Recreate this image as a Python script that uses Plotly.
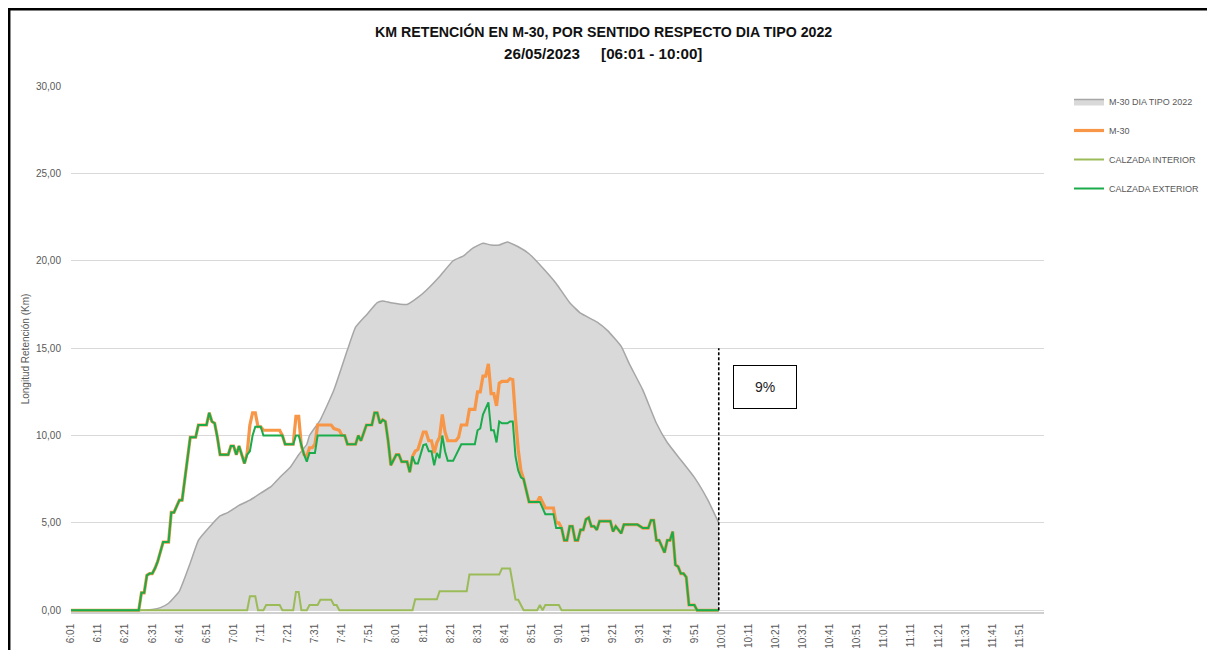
import plotly.graph_objects as go

# ---------------- data ----------------
TICK_LABELS = ["6:01", "6:11", "6:21", "6:31", "6:41", "6:51", "7:01", "7:11", "7:21", "7:31",
               "7:41", "7:51", "8:01", "8:11", "8:21", "8:31", "8:41", "8:51", "9:01", "9:11",
               "9:21", "9:31", "9:41", "9:51", "10:01", "10:11", "10:21", "10:31", "10:41", "10:51",
               "11:01", "11:11", "11:21", "11:31", "11:41", "11:51"]
Y_TICKS = [0, 5, 10, 15, 20, 25, 30]

tipo_t = ["6:01", "6:26", "6:31", "6:34", "6:37", "6:41", "6:45", "6:48", "6:52", "6:56", "6:59",
          "7:03", "7:07", "7:11", "7:15", "7:18", "7:22", "7:25", "7:28", "7:29", "7:33", "7:38",
          "7:43", "7:46", "7:50", "7:54", "7:56", "7:59", "8:05", "8:09", "8:12", "8:17", "8:22",
          "8:26", "8:29", "8:33", "8:36", "8:39", "8:42", "8:46", "8:50", "8:55", "9:00", "9:05",
          "9:09", "9:15", "9:19", "9:24", "9:27", "9:32", "9:37", "9:41", "9:46", "9:51", "9:56",
          "10:00"]
tipo_v = [0, 0, 0.05, 0.15, 0.4, 1.1, 2.7, 4.0, 4.75, 5.4, 5.6,
          6.0, 6.3, 6.7, 7.1, 7.6, 8.2, 8.9, 9.5, 10.0, 10.9, 12.6,
          14.9, 16.2, 16.9, 17.6, 17.7, 17.6, 17.5, 17.9, 18.3, 19.1, 20.0,
          20.3, 20.7, 21.0, 20.9, 20.9, 21.07, 20.8, 20.4, 19.6, 18.7, 17.6,
          17.0, 16.5, 16.0, 15.1, 14.1, 12.6, 10.7, 9.6, 8.6, 7.6, 6.3,
          5.0]

ext_t = ["6:01", "6:26", "6:27", "6:28", "6:29", "6:30", "6:31", "6:32", "6:33", "6:34", "6:35",
         "6:37", "6:38", "6:39", "6:41", "6:42", "6:43", "6:44", "6:45", "6:47", "6:48", "6:51",
         "6:52", "6:53", "6:54", "6:55", "6:56", "6:59", "7:00", "7:01", "7:02", "7:03", "7:04",
         "7:05", "7:06", "7:07", "7:08", "7:09", "7:11", "7:12", "7:19", "7:20", "7:23", "7:24",
         "7:25", "7:26", "7:27", "7:28", "7:29", "7:31", "7:32", "7:42", "7:43", "7:46", "7:47",
         "7:48", "7:49", "7:50", "7:52", "7:53", "7:54", "7:55", "7:56", "7:57", "7:58", "7:59",
         "8:01", "8:02", "8:03", "8:05", "8:06", "8:07", "8:08", "8:09", "8:11", "8:12", "8:13",
         "8:14", "8:15", "8:16", "8:17", "8:18", "8:19", "8:20", "8:22", "8:23", "8:25", "8:30",
         "8:31", "8:32", "8:33", "8:35", "8:36", "8:37", "8:38", "8:39", "8:40", "8:42", "8:43",
         "8:44", "8:45", "8:46", "8:47", "8:48", "8:50", "8:54", "8:56", "8:59", "9:00", "9:02",
         "9:03", "9:04", "9:05", "9:06", "9:07", "9:08", "9:09", "9:10", "9:11", "9:12", "9:13",
         "9:14", "9:15", "9:16", "9:20", "9:21", "9:22", "9:24", "9:25", "9:30", "9:32", "9:34",
         "9:35", "9:36", "9:37", "9:38", "9:40", "9:41", "9:42", "9:43", "9:44", "9:45", "9:46",
         "9:47", "9:48", "9:49", "9:51", "9:52", "10:00"]
ext_v = [0, 0, 1.0, 1.0, 2.0, 2.1, 2.1, 2.4, 2.8, 3.3, 3.9,
         3.9, 5.6, 5.6, 6.3, 6.3, 7.5, 8.5, 9.9, 9.9, 10.6, 10.6,
         11.3, 10.8, 10.7, 9.9, 8.9, 8.9, 9.4, 9.4, 8.9, 9.4, 8.9,
         8.4, 8.9, 9.1, 10.0, 10.5, 10.5, 10.0, 10.0, 9.5, 9.5, 10.0,
         10.0, 9.4, 8.9, 8.5, 9.0, 9.0, 10.0, 10.0, 9.5, 9.5, 10.0,
         9.7, 10.2, 10.6, 10.6, 11.3, 11.3, 10.7, 10.9, 10.8, 9.7, 8.3,
         8.9, 8.9, 8.5, 8.5, 7.9, 8.8, 8.4, 8.4, 9.45, 9.5, 9.1,
         9.1, 8.3, 9.0, 8.7, 10.0, 9.1, 8.55, 8.55, 8.9, 9.5, 9.5,
         10.3, 10.4, 11.2, 11.9, 10.3, 10.3, 9.6, 10.8, 10.7, 10.7, 10.8,
         10.8, 8.8, 8.0, 7.6, 7.5, 6.2, 6.2, 5.5, 5.5, 4.7, 4.7,
         4.0, 4.0, 4.8, 4.8, 4.0, 4.0, 4.6, 4.6, 5.2, 5.3, 4.8,
         4.8, 4.6, 5.1, 5.1, 4.5, 4.8, 4.4, 4.9, 4.9, 4.7, 4.7,
         5.15, 5.15, 4.0, 4.0, 3.3, 4.0, 4.0, 4.5, 2.6, 2.5, 2.1,
         2.1, 1.9, 0.3, 0.3, 0, 0]

int_t = ["6:01", "7:06", "7:07", "7:09", "7:10", "7:12", "7:13", "7:18", "7:19", "7:23", "7:24",
         "7:25", "7:26", "7:28", "7:29", "7:32", "7:33", "7:37", "7:38", "7:39", "7:40", "8:07",
         "8:08", "8:16", "8:17", "8:27", "8:28", "8:39", "8:40", "8:43", "8:45", "8:46", "8:48",
         "8:53", "8:54", "8:55", "8:56", "9:01", "9:02", "10:00"]
int_v = [0, 0, 0.8, 0.8, 0, 0, 0.3, 0.3, 0, 0, 1.05,
         1.05, 0, 0, 0.3, 0.3, 0.6, 0.6, 0.3, 0.3, 0, 0,
         0.63, 0.63, 1.09, 1.09, 2.04, 2.04, 2.39, 2.39, 0.61, 0.6, 0,
         0, 0.3, 0, 0.3, 0.3, 0, 0]

m30_t = ["6:01", "6:26", "6:27", "6:28", "6:29", "6:30", "6:31", "6:32", "6:33", "6:34", "6:35",
         "6:37", "6:38", "6:39", "6:41", "6:42", "6:43", "6:44", "6:45", "6:47", "6:48", "6:51",
         "6:52", "6:53", "6:54", "6:55", "6:56", "6:59", "7:00", "7:01", "7:02", "7:03", "7:04",
         "7:05", "7:06", "7:07", "7:08", "7:09", "7:10", "7:11", "7:12", "7:18", "7:19", "7:20",
         "7:23", "7:24", "7:25", "7:26", "7:27", "7:28", "7:29", "7:30", "7:31", "7:32", "7:37",
         "7:38", "7:40", "7:41", "7:42", "7:43", "7:46", "7:47", "7:48", "7:49", "7:50", "7:52",
         "7:53", "7:54", "7:55", "7:56", "7:57", "7:58", "7:59", "8:01", "8:02", "8:03", "8:05",
         "8:06", "8:07", "8:08", "8:09", "8:10", "8:11", "8:12", "8:13", "8:14", "8:15", "8:16",
         "8:17", "8:18", "8:19", "8:20", "8:23", "8:24", "8:25", "8:27", "8:28", "8:30", "8:31",
         "8:32", "8:33", "8:34", "8:35", "8:36", "8:37", "8:38", "8:39", "8:40", "8:42", "8:43",
         "8:44", "8:45", "8:46", "8:47", "8:48", "8:50", "8:53", "8:54", "8:55", "8:56", "8:59",
         "9:00", "9:01", "9:02", "9:03", "9:04", "9:05", "9:06", "9:07", "9:08", "9:09", "9:10",
         "9:11", "9:12", "9:13", "9:14", "9:15", "9:16", "9:20", "9:21", "9:22", "9:24", "9:25",
         "9:30", "9:32", "9:34", "9:35", "9:36", "9:37", "9:38", "9:40", "9:41", "9:42", "9:43",
         "9:44", "9:45", "9:46", "9:47", "9:48", "9:49", "9:51", "9:52", "10:00"]
m30_v = [0, 0, 1.0, 1.0, 2.0, 2.1, 2.1, 2.4, 2.8, 3.3, 3.9,
         3.9, 5.6, 5.6, 6.3, 6.3, 7.5, 8.5, 9.9, 9.9, 10.6, 10.6,
         11.3, 10.8, 10.7, 9.9, 8.9, 8.9, 9.4, 9.4, 8.9, 9.4, 8.9,
         8.4, 9.0, 10.6, 11.3, 11.3, 10.5, 10.5, 10.3, 10.3, 10.0, 9.5,
         9.5, 11.1, 11.1, 9.4, 8.9, 8.8, 9.3, 9.3, 9.5, 10.6, 10.6,
         10.4, 10.3, 10.0, 10.0, 9.5, 9.5, 10.0, 9.7, 10.2, 10.6, 10.6,
         11.3, 11.3, 10.7, 10.9, 10.8, 9.7, 8.3, 8.9, 8.9, 8.5, 8.5,
         7.9, 8.8, 9.1, 9.2, 9.7, 10.2, 10.2, 9.7, 9.7, 9.0, 9.6,
         9.9, 11.2, 10.2, 9.7, 9.7, 9.9, 10.6, 10.6, 11.5, 11.5, 12.5,
         12.5, 13.4, 13.4, 14.1, 12.4, 12.4, 11.7, 13.0, 13.1, 13.1, 13.25,
         13.2, 11.0, 9.2, 8.0, 7.5, 6.2, 6.2, 6.5, 6.2, 5.85, 5.85,
         5.0, 5.0, 4.7, 4.0, 4.0, 4.8, 4.8, 4.0, 4.0, 4.6, 4.6,
         5.2, 5.3, 4.8, 4.8, 4.6, 5.1, 5.1, 4.5, 4.8, 4.4, 4.9,
         4.9, 4.7, 4.7, 5.15, 5.15, 4.0, 4.0, 3.3, 4.0, 4.0, 4.5,
         2.6, 2.5, 2.1, 2.1, 1.9, 0.3, 0.3, 0, 0]

CUTOFF_TIME = "10:00"
CUTOFF_LEVEL = 15.0
PCT_LABEL = "9%"
PCT_POS = ("10:17", 12.8)

TITLE_1 = "KM RETENCIÓN EN M-30, POR SENTIDO RESPECTO DIA TIPO 2022"
TITLE_2 = "26/05/2023\u00a0\u00a0\u00a0\u00a0\u00a0[06:01 - 10:00]"


def tm(s):
    h, m = s.split(":")
    return int(h) * 60 + int(m) - 360


def tms(lst):
    return [tm(s) for s in lst]


FONT = "Liberation Sans, Arial, sans-serif"
GREY_TXT = "#595959"

# page has an 8px body margin: figure pixel = page pixel - OFF
OFF = 8
W, H = 1215, 650
PLOT_L, PLOT_R, PLOT_T, PLOT_B = 71, 1044, 86, 612   # page pixels of the plot area
L = PLOT_L - OFF
T = PLOT_T - OFF
R = W - (PLOT_R - OFF)
B = H - (PLOT_B - OFF)
pw, ph = W - L - R, H - T - B


def px_x(p):
    return (p - PLOT_L) / pw


def px_y(p):
    return (PLOT_B - p) / ph


fig = go.Figure()
fig.add_trace(go.Scatter(x=tms(tipo_t), y=tipo_v, name="M-30 DIA TIPO 2022", mode="lines",
                         line=dict(color="#a6a6a6", width=1.5, shape="spline", smoothing=0.4),
                         fill="tozeroy", fillcolor="#d9d9d9", legendgroup="a"))
fig.add_trace(go.Scatter(x=tms(m30_t), y=m30_v, name="M-30", mode="lines",
                         line=dict(color="#f79646", width=3.2), legendgroup="b"))
fig.add_trace(go.Scatter(x=tms(int_t), y=int_v, name="CALZADA INTERIOR", mode="lines",
                         line=dict(color="#9bbb59", width=2), legendgroup="c"))
fig.add_trace(go.Scatter(x=tms(ext_t), y=ext_v, name="CALZADA EXTERIOR", mode="lines",
                         line=dict(color="#1aab4b", width=2), legendgroup="d"))
fig.add_trace(go.Scatter(x=[tm(CUTOFF_TIME), tm(CUTOFF_TIME)], y=[0, CUTOFF_LEVEL],
                         mode="lines", line=dict(color="black", width=1.6, dash="3px,2px"),
                         showlegend=False, hoverinfo="skip"))

fig.add_annotation(x=tm(PCT_POS[0]), y=PCT_POS[1], xref="x", yref="y", text=PCT_LABEL,
                   showarrow=False, width=60, height=40, bordercolor="black", borderwidth=1,
                   borderpad=1, bgcolor="white",
                   font=dict(family=FONT, size=14, color="#222"))

fig.add_annotation(x=px_x(603), y=px_y(31), xref="paper", yref="paper", text="<b>" + TITLE_1 + "</b>",
                   showarrow=False, font=dict(family=FONT, size=14.2, color="#111"),
                   xanchor="center", yanchor="middle")
fig.add_annotation(x=px_x(603), y=px_y(53), xref="paper", yref="paper", text="<b>" + TITLE_2 + "</b>",
                   showarrow=False, font=dict(family=FONT, size=15.2, color="#111"),
                   xanchor="center", yanchor="middle")

# chart frame: thick black line along the top and left edges
fig.add_shape(type="rect", xref="paper", yref="paper", x0=px_x(9.2), x1=px_x(1260),
              y0=px_y(700), y1=px_y(9.2), line=dict(color="black", width=2.5))

fig.update_layout(
    width=W, height=H,
    margin=dict(l=L, r=R, t=T, b=B, pad=0, autoexpand=False),
    paper_bgcolor="white", plot_bgcolor="white",
    separators=",.",
    showlegend=True,
    legend=dict(x=px_x(1069), y=px_y(87), xanchor="left", yanchor="top",
                font=dict(family=FONT, size=9, color=GREY_TXT),
                tracegroupgap=10, itemwidth=30, bgcolor="rgba(0,0,0,0)"),
    xaxis=dict(range=[1, 360], tickmode="array", tickvals=tms(TICK_LABELS), ticktext=TICK_LABELS,
               tickangle=-90, tickfont=dict(family=FONT, size=10, color=GREY_TXT),
               showgrid=False, zeroline=False, showline=True, linecolor="#d0d0d0", linewidth=1.5,
               ticks="", ticklabelstandoff=6, automargin=False),
    yaxis=dict(range=[-0.1, 30], tickvals=Y_TICKS, tickformat=".2f",
               tickfont=dict(family=FONT, size=10, color=GREY_TXT),
               showgrid=True, gridcolor="#d9d9d9", gridwidth=1, zeroline=False,
               ticks="", ticklabelstandoff=9, automargin=False,
               title=dict(text="Longitud Retención (Km)", standoff=4,
                          font=dict(family=FONT, size=10, color=GREY_TXT))),
)

fig.write_html("out.html")
